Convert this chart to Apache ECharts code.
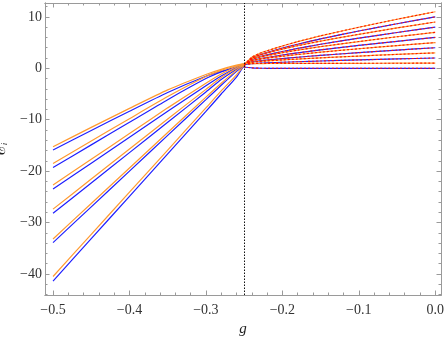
<!DOCTYPE html>
<html><head><meta charset="utf-8">
<script src="https://cdn.jsdelivr.net/npm/echarts@6/dist/echarts.min.js"></script>
<style>html,body{margin:0;padding:0;background:#fff}#c{width:445px;height:339px}</style>
</head><body><div id="c"></div>
<script>
// g grid shared by all curves
const gValues = [-0.5,-0.45,-0.4,-0.35,-0.3,-0.28,-0.26,-0.25,-0.24,-0.23,-0.22,-0.2,-0.18,-0.15,-0.1,-0.05,0];
// index in gValues where the critical point g = -0.25 sits
const criticalIndex = 7;
// blue curves (end at levels 0,2,4,6,8,10 at g = 0)
const blueCurves = [
  [-15.9,-12.1,-8.35,-4.7,-1.55,-0.6,0.1,0.25,0.08,0.02,0,0,0,0,0,0,0],
  [-19.3,-14.9,-10.5,-6.1,-2.0,-0.7,0.3,0.7,0.9,0.99,1.05,1.17,1.27,1.42,1.62,1.82,2.0],
  [-23.5,-18.45,-13.4,-8.35,-3.4,-1.5,0.1,0.7,1.2,1.43,1.59,1.89,2.15,2.52,3.04,3.54,4.0],
  [-28.2,-22.3,-16.4,-10.5,-4.6,-2.2,-0.2,0.65,1.45,1.83,2.09,2.58,3.0,3.59,4.45,5.25,6.0],
  [-33.9,-26.95,-20.0,-13.05,-6.1,-3.3,-0.6,0.6,1.71,2.23,2.6,3.26,3.86,4.67,5.85,6.96,8.0],
  [-41.4,-33.15,-24.9,-16.65,-8.4,-5.0,-1.7,0.5,1.93,2.59,3.07,3.92,4.68,5.73,7.25,8.67,10.0]
];
// orange curves (end at levels 1,3,5,7,9,11 at g = 0)
const orangeCurves = [
  [-15.25,-11.5,-7.8,-4.2,-1.2,-0.2,0.6,0.9,0.92,0.92,0.93,0.94,0.94,0.96,0.97,0.99,1.0],
  [-18.5,-14.15,-9.8,-5.5,-1.6,-0.4,0.5,0.85,1.17,1.32,1.43,1.62,1.8,2.03,2.38,2.7,3.0],
  [-22.7,-17.7,-12.7,-7.7,-2.9,-1.1,0.3,0.85,1.47,1.76,1.97,2.34,2.68,3.13,3.8,4.42,5.0],
  [-27.4,-21.55,-15.7,-9.85,-4.1,-1.8,0.0,0.8,1.73,2.16,2.47,3.03,3.53,4.21,5.2,6.13,7.0],
  [-33.2,-26.3,-19.4,-12.5,-5.6,-2.9,-0.4,0.75,1.99,2.57,2.98,3.72,4.38,5.29,6.61,7.85,9.0],
  [-40.5,-32.3,-24.1,-15.9,-7.7,-4.4,-1.3,0.6,2.16,2.89,3.41,4.34,5.18,6.32,7.98,9.54,11.0]
];
const criticalG = -0.25;
const xTicks = [-0.5,-0.4,-0.3,-0.2,-0.1,0];
const xTickLabels = ['\u22120.5','\u22120.4','\u22120.3','\u22120.2','\u22120.1','0.0'];
const yTicks = [-40,-30,-20,-10,0,10];
const yTickLabels = ['\u221240','\u221230','\u221220','\u221210','0','10'];

const xMinor = []; for (let i = -26; i <= 0; i++) { const v = +(i*0.02).toFixed(2); if (Math.abs(v*10 - Math.round(v*10)) > 1e-6) xMinor.push(v); }
const yMinor = []; for (let v = -44; v <= 12; v += 2) { if (v % 10 !== 0) yMinor.push(v); }

const XMIN = -0.5105, XMAX = 0.0075, YMIN = -44.1, YMAX = 12.7;
const frame = '#9a9a9a';
const labelFont = {fontFamily: 'Liberation Serif', fontSize: 14, color: '#333'};

function xa(pos, vals, len, labels) {
  return {type:'value', min:XMIN, max:XMAX, position:pos, gridIndex:0,
    axisLine:{show:true, onZero:false, lineStyle:{color:frame, width:1}},
    splitLine:{show:false},
    axisTick:{show:true, inside:true, length:len, customValues:vals, lineStyle:{color:frame}},
    axisLabel: labels ? Object.assign({show:true, customValues:xTicks, margin:8,
      formatter:(v)=>{const i = xTicks.findIndex(t=>Math.abs(t-v)<1e-9); return i>=0?xTickLabels[i]:'';}}, labelFont) : {show:false}};
}
function ya(pos, vals, len, labels) {
  return {type:'value', min:YMIN, max:YMAX, position:pos, gridIndex:0,
    axisLine:{show:true, onZero:false, lineStyle:{color:frame, width:1}},
    splitLine:{show:false},
    axisTick:{show:true, inside:true, length:len, customValues:vals, lineStyle:{color:frame}},
    axisLabel: labels ? Object.assign({show:true, customValues:yTicks, margin:3,
      formatter:(v)=>{const i = yTicks.findIndex(t=>Math.abs(t-v)<1e-9); return i>=0?yTickLabels[i]:'';}}, labelFont) : {show:false}};
}

const xAxes = [xa('bottom', xTicks, 4.5, true), xa('bottom', xMinor, 2.5, false), xa('top', xTicks, 4.5, false), xa('top', xMinor, 2.5, false)];
const yAxes = [ya('left', yTicks, 4.5, true), ya('left', yMinor, 2.5, false), ya('right', yTicks, 4.5, false), ya('right', yMinor, 2.5, false)];
xAxes[0].name = 'g';
xAxes[0].nameLocation = 'middle';
xAxes[0].nameGap = 27;
xAxes[0].nameTextStyle = {fontFamily:'Liberation Serif', fontStyle:'italic', fontSize:15, color:'#222'};
yAxes[0].name = '{e|\u2130}{s|i}';
yAxes[0].nameLocation = 'middle';
yAxes[0].nameRotate = 90;
yAxes[0].nameGap = 32;
yAxes[0].nameTextStyle = {rich:{e:{fontFamily:'DejaVu Serif', fontSize:17, color:'#222'}, s:{fontFamily:'Liberation Serif', fontStyle:'italic', fontSize:9, color:'#222', padding:[9,0,0,0]}}};

const series = [];
const pts = (arr, from) => gValues.map((g,i)=>[g, arr[i]]).slice(from || 0);
blueCurves.forEach((c)=>series.push({type:'line', data:pts(c), showSymbol:false, smooth:0.2,
  lineStyle:{color:'#1f1fff', width:1.2}, z:2}));
orangeCurves.forEach((c)=>series.push({type:'line', data:pts(c), showSymbol:false, smooth:0.2,
  lineStyle:{color:'#ff9a30', width:1.2}, z:3}));
blueCurves.concat(orangeCurves).forEach((c)=>series.push({type:'line', data:pts(c, criticalIndex), showSymbol:false, smooth:0.2,
  lineStyle:{color:'#ff1a00', width:1.1, type:[2,2]}, z:4}));
series[0].markLine = {silent:true, symbol:['none','none'], label:{show:false},
  lineStyle:{color:'#111', width:1, type:[1.5,1.5]}, data:[{xAxis:criticalG}], animation:false};

const chart = echarts.init(document.getElementById('c'), null, {renderer:'canvas'});
chart.setOption({animation:false, backgroundColor:'#fff',
  grid:{left:45, right:4, top:3, bottom:44, containLabel:false, outerBoundsMode:'none'},
  xAxis:xAxes, yAxis:yAxes, series:series});
</script></body></html>
